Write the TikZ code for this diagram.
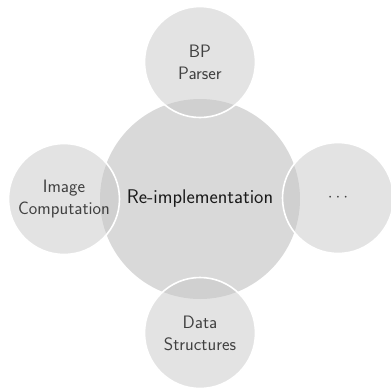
\documentclass[tikz,border=0pt]{standalone}
\usetikzlibrary{positioning}
\definecolor{hubfill}{HTML}{D9D9D9}
\definecolor{bubblefill}{HTML}{C8C8C8}
\definecolor{bubbletext}{HTML}{404040}
\tikzset{
  hub/.style={circle, fill=hubfill, minimum size=200pt, inner sep=0pt,
    text=black!90, font=\sffamily\fontsize{19.8}{24}\selectfont},
  bubble/.style={circle, fill=bubblefill, fill opacity=0.5, text opacity=1,
    draw=white, line width=1.6pt, minimum size=111pt, inner sep=0pt,
    align=center, text=bubbletext, font=\sffamily\fontsize{18}{21.8}\selectfont},
}
\begin{document}
\begin{tikzpicture}[x=1pt, y=-1pt]
  \useasboundingbox (0,0) rectangle (391,389);
  \node[hub] (hub) at (200,199) {Re-implementation};
  \node[bubble] (parser) at (200,62) {BP\\Parser};
  \node[bubble] (image) at (64,199) {Image\\Computation};
  \node[bubble] (more) at (338,198) {$\cdots$};
  \node[bubble] (data) at (200,333) {Data\\Structures};
\end{tikzpicture}
\end{document}
